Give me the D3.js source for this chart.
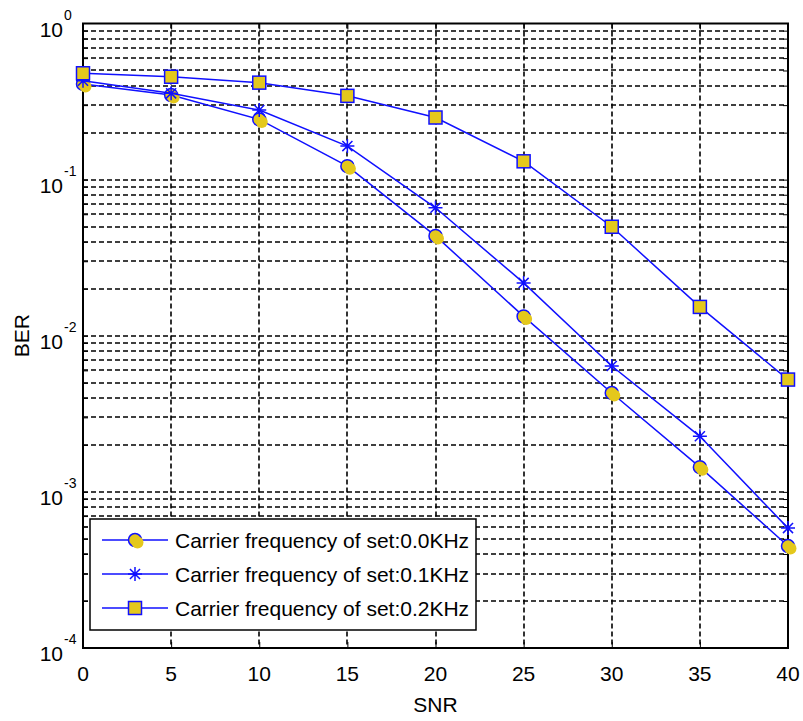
<!DOCTYPE html>
<html>
<head>
  <meta charset="utf-8">
  <title>BER vs SNR</title>
  <style>
    body { margin: 0; background: #fff; }
    svg text { font-family: "Liberation Sans", Arial, sans-serif; fill: #000; }
  </style>
</head>
<body>
  <div id="chart"></div>

  <script src="https://d3js.org/d3.v7.min.js"></script>
  <script>
    // data
    const snr = [0, 5, 10, 15, 20, 25, 30, 35, 40];
    const ber00 = [0.41, 0.348, 0.243, 0.122, 0.0436, 0.0133, 0.0043, 0.00144, 0.00045];
    const ber01 = [0.43, 0.357, 0.279, 0.164, 0.066, 0.0218, 0.0064, 0.00227, 0.000586];
    const ber02 = [0.48, 0.456, 0.418, 0.344, 0.250, 0.131, 0.0499, 0.0153, 0.00524];
    const seriesNames = [
      "Carrier frequency of set:0.0KHz",
      "Carrier frequency of set:0.1KHz",
      "Carrier frequency of set:0.2KHz"
    ];
    const xTicks = [0, 5, 10, 15, 20, 25, 30, 35, 40];
    const yExponents = [0, -1, -2, -3, -4];

    const W = 803, H = 721;
    const pLeft = 83, pRight = 788, pTop = 23.5, pBottom = 648;
    const blue = "#1010ff", yellow = "#e4c81c";

    const svg = d3.select("#chart").append("svg")
      .attr("width", W).attr("height", H);

    const x = d3.scaleLinear().domain([0, 40]).range([pLeft, pRight]);
    const y = d3.scaleLog().domain([1e-4, 1]).range([pBottom, pTop]);

    // grid lines at every log step
    const minor = [];
    yExponents.slice(0, -1).forEach(e => {
      for (let k = 1; k < 10; k++) minor.push(k * Math.pow(10, e - 1));
    });

    const grid = svg.append("g")
      .attr("stroke", "#000").attr("stroke-width", 1.6)
      .attr("stroke-dasharray", "5,3");

    grid.selectAll("line.h").data(minor.filter(v => v > 1e-4 && v < 1)).join("line")
      .attr("class", "h")
      .attr("x1", pLeft).attr("x2", pRight)
      .attr("y1", d => Math.round(y(d))).attr("y2", d => Math.round(y(d)));

    grid.selectAll("line.v").data(xTicks.slice(1, -1)).join("line")
      .attr("class", "v")
      .attr("x1", d => Math.round(x(d))).attr("x2", d => Math.round(x(d)))
      .attr("y1", pTop).attr("y2", pBottom);

    // axes (ticks inside)
    const noDomain = g => g.select(".domain").remove();
    svg.append("g").attr("transform", `translate(0,${pBottom})`)
      .call(d3.axisBottom(x).tickValues(xTicks).tickSize(-6).tickFormat(""))
      .call(noDomain);
    svg.append("g").attr("transform", `translate(0,${pTop})`)
      .call(d3.axisTop(x).tickValues(xTicks).tickSize(-6).tickFormat(""))
      .call(noDomain);
    svg.append("g").attr("transform", `translate(${pLeft},0)`)
      .call(d3.axisLeft(y).tickValues(minor).tickSize(-5).tickFormat(""))
      .call(noDomain);
    svg.append("g").attr("transform", `translate(${pRight},0)`)
      .call(d3.axisRight(y).tickValues(minor).tickSize(-5).tickFormat(""))
      .call(noDomain);

    svg.append("rect")
      .attr("x", pLeft).attr("y", pTop)
      .attr("width", pRight - pLeft).attr("height", pBottom - pTop)
      .attr("fill", "none").attr("stroke", "#000").attr("stroke-width", 2);

    // tick labels
    svg.append("g").selectAll("text").data(xTicks).join("text")
      .attr("x", d => x(d)).attr("y", 681)
      .attr("text-anchor", "middle").attr("font-size", 21)
      .text(d => d);

    const yl = svg.append("g").selectAll("g").data(yExponents).join("g")
      .attr("transform", d => `translate(0,${y(Math.pow(10, d))})`);
    yl.append("text").attr("x", 63).attr("y", 13)
      .attr("text-anchor", "end").attr("font-size", 21).text("10");
    yl.append("text").attr("x", 64).attr("y", -4)
      .attr("font-size", 14).text(d => d);

    svg.append("text").attr("x", (pLeft + pRight) / 2).attr("y", 712)
      .attr("text-anchor", "middle").attr("font-size", 21).text("SNR");
    svg.append("text")
      .attr("transform", `translate(29,${(pTop + pBottom) / 2}) rotate(-90)`)
      .attr("text-anchor", "middle").attr("font-size", 21).text("BER");

    // series
    const allSeries = [ber00, ber01, ber02];
    const kinds = ["circle", "star", "square"];
    const line = d3.line().x((d, i) => x(snr[i])).y(d => y(d));

    function marker(g, kind) {
      if (kind === "circle") {
        g.append("circle").attr("r", 6.5)
          .attr("fill", yellow).attr("stroke", blue).attr("stroke-width", 1.5);
        g.append("circle").attr("cx", 2.5).attr("cy", 2.5).attr("r", 6)
          .attr("fill", yellow);
      } else if (kind === "star") {
        const r = 7, s = r * 0.72;
        g.append("path")
          .attr("d", `M${-r},0L${r},0M0,${-r}L0,${r}M${-s},${-s}L${s},${s}M${-s},${s}L${s},${-s}`)
          .attr("stroke", blue).attr("stroke-width", 1.5);
      } else {
        g.append("rect").attr("x", -6.5).attr("y", -6.5).attr("width", 13).attr("height", 13)
          .attr("fill", yellow).attr("stroke", blue).attr("stroke-width", 1.5);
      }
    }

    allSeries.forEach((vals, si) => {
      svg.append("path").datum(vals)
        .attr("d", line).attr("fill", "none")
        .attr("stroke", blue).attr("stroke-width", 1.5);
      svg.append("g").selectAll("g").data(vals).join("g")
        .attr("transform", (d, i) => `translate(${x(snr[i])},${y(d)})`)
        .each(function () { marker(d3.select(this), kinds[si]); });
    });

    // legend
    const lg = svg.append("g");
    lg.append("rect").attr("x", 90).attr("y", 519).attr("width", 386).attr("height", 111)
      .attr("fill", "#fff").attr("stroke", "#000").attr("stroke-width", 1.5);
    seriesNames.forEach((name, i) => {
      const ly = 540 + i * 34;
      lg.append("line").attr("x1", 102).attr("x2", 168).attr("y1", ly).attr("y2", ly)
        .attr("stroke", blue).attr("stroke-width", 1.5);
      marker(lg.append("g").attr("transform", `translate(135,${ly})`), kinds[i]);
      lg.append("text").attr("x", 175).attr("y", ly + 8)
        .attr("font-size", 21).text(name);
    });
  </script>
</body>
</html>
